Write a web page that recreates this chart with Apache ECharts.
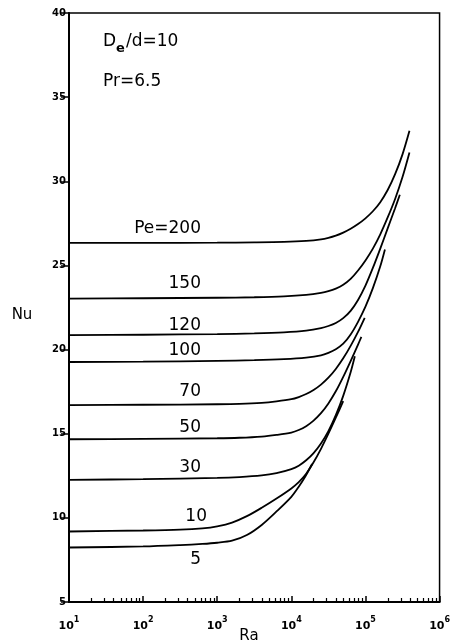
<!DOCTYPE html>
<html>
<head>
<meta charset="utf-8">
<script src="https://cdn.jsdelivr.net/npm/echarts@6/dist/echarts.min.js"></script>
<style>
  html, body { margin: 0; background: #fff; }
  #chart { width: 453px; height: 641px; }
</style>
</head>
<body>
<div id="chart"></div>
<script>
// Nu vs Ra for several Pe values ([Ra, Nu])
const pe200 = [[10,26.34],[100,26.34],[1000,26.35],[3162,26.37],[7943,26.4],[15850,26.46],[25120,26.55],[31620,26.64],[39810,26.77],[50120,26.95],[63100,27.18],[79430,27.46],[100000,27.8],[125900,28.22],[158500,28.76],[199500,29.48],[251200,30.42],[316200,31.6],[392600,33.0]];
const pe150 = [[10,23.03],[100,23.05],[1000,23.08],[3162,23.11],[7943,23.16],[15850,23.25],[25120,23.37],[31620,23.47],[39810,23.62],[50120,23.85],[63100,24.2],[79430,24.7],[100000,25.3],[125900,26.0],[158500,26.85],[199500,27.85],[251200,28.95],[316200,30.25],[392600,31.71]];
const pe120 = [[10,20.86],[100,20.88],[1000,20.92],[3162,20.96],[7943,21.02],[15850,21.12],[25120,21.27],[31620,21.4],[39810,21.58],[50120,21.87],[63100,22.3],[79430,22.95],[100000,23.8],[125900,24.85],[158500,26.0],[199500,27.2],[251200,28.4],[291100,29.2]];
const pe100 = [[10,19.26],[100,19.28],[1000,19.33],[3162,19.37],[7943,19.43],[15850,19.52],[25120,19.65],[31620,19.8],[39810,20.02],[50120,20.35],[63100,20.9],[79430,21.65],[100000,22.55],[125900,23.65],[158500,24.95],[183200,25.95]];
const pe70 = [[10,16.7],[100,16.72],[1000,16.75],[1995,16.77],[3981,16.83],[6310,16.92],[10000,17.05],[12590,17.18],[15850,17.36],[19950,17.6],[25120,17.92],[31620,18.33],[39810,18.85],[50120,19.48],[63100,20.22],[79430,21.05],[97700,21.89]];
const pe50 = [[10,14.67],[100,14.69],[1000,14.73],[1995,14.76],[3981,14.83],[6310,14.93],[10000,15.07],[12590,15.22],[15850,15.45],[19950,15.78],[25120,16.22],[31620,16.8],[39810,17.52],[50120,18.38],[63100,19.32],[79430,20.3],[88100,20.75]];
const pe30 = [[10,12.26],[100,12.3],[1000,12.37],[1995,12.42],[3981,12.52],[6310,12.66],[10000,12.9],[12590,13.1],[15850,13.42],[19950,13.85],[25120,14.42],[31620,15.15],[39810,16.1],[50120,17.25],[63100,18.65],[71900,19.6]];
const pe10 = [[10,9.19],[100,9.25],[316,9.3],[631,9.38],[1000,9.5],[1585,9.72],[2512,10.1],[3981,10.6],[6310,11.15],[10000,11.75],[12590,12.12],[15850,12.62],[19950,13.3],[25120,14.1],[31620,15.0],[39810,15.95],[50120,16.94]];
const pe5 = [[10,8.24],[100,8.3],[316,8.38],[631,8.45],[1000,8.52],[1585,8.64],[2512,8.98],[3981,9.58],[6310,10.38],[10000,11.25],[12590,11.85],[15850,12.55],[19050,13.2]];

const peNames = ["Pe=200", "150", "120", "100", "70", "50", "30", "10", "5"];
const peData = [pe200, pe150, pe120, pe100, pe70, pe50, pe30, pe10, pe5];

// curve label anchors (right edge x, centre y) in pixels
const labelPos = [[201,229],[201,284],[201,326],[201,351],[201,392],[201,428],[201,468],[207,517],[201,560]];

const yTicks = [5, 10, 15, 20, 25, 30, 35, 40];
const decades = [10, 100, 1000, 10000, 100000, 1000000];
const minorTickValues = [];
decades.slice(0, 5).forEach(d => { for (let m = 2; m <= 9; m++) minorTickValues.push(m * d); });

const chart = echarts.init(document.getElementById("chart"), null, { renderer: "canvas" });

const font = "DejaVu Sans";

const series = peData.map((d, i) => ({
  name: peNames[i],
  type: "line",
  data: d,
  xAxisIndex: 0,
  showSymbol: false,
  smooth: 0.3,
  lineStyle: { color: "#000", width: 1.8 },
  silent: true,
  animation: false
}));

const graphics = peNames.map((t, i) => ({
  type: "text",
  x: labelPos[i][0],
  y: labelPos[i][1],
  style: {
    text: t,
    font: "17px " + font,
    fill: "#000",
    align: "right",
    verticalAlign: "middle"
  }
}));

graphics.push(
  {
    type: "text", x: 103, y: 44,
    style: {
      text: "{n|D}{s|e}{n|/d=10}",
      fill: "#000",
      verticalAlign: "middle",
      rich: {
        n: { fontFamily: font, fontSize: 17, lineHeight: 22, verticalAlign: "top" },
        s: { fontFamily: font, fontSize: 13, fontWeight: "bold", lineHeight: 22, verticalAlign: "bottom", padding: [0, 1, 0, 0] }
      }
    }
  },
  {
    type: "text", x: 103, y: 82,
    style: { text: "Pr=6.5", font: "17px " + font, fill: "#000", verticalAlign: "middle" }
  },
  {
    type: "text", x: 22, y: 315,
    style: { text: "Nu", font: "15px " + font, fill: "#000", align: "center", verticalAlign: "middle" }
  },
  {
    type: "text", x: 249, y: 636,
    style: { text: "Ra", font: "15px " + font, fill: "#000", align: "center", verticalAlign: "middle" }
  }
);

chart.setOption({
  animation: false,
  backgroundColor: "#fff",
  grid: {
    left: 69, right: 11, top: 13, bottom: 39,
    show: true, borderColor: "#000", borderWidth: 1.5,
    containLabel: false
  },
  xAxis: [
    {
      type: "log",
      logBase: 10,
      min: 10,
      max: 1000000,
      position: "bottom",
      axisLine: { show: true, lineStyle: { color: "#000", width: 2 } },
      axisTick: { show: true, inside: true, length: 6, lineStyle: { color: "#000", width: 1.5 } },
      splitLine: { show: false },
      axisLabel: {
        margin: 14,
        color: "#000",
        formatter: (v) => "{b|10}{s|" + Math.round(Math.log10(v)) + "}",
        rich: {
          b: { fontFamily: font, fontSize: 11, fontWeight: "bold", lineHeight: 16, verticalAlign: "bottom" },
          s: { fontFamily: font, fontSize: 8, fontWeight: "bold", lineHeight: 16, verticalAlign: "top" }
        }
      }
    },
    {
      type: "log",
      logBase: 10,
      min: 10,
      max: 1000000,
      position: "bottom",
      axisLine: { show: false },
      axisLabel: { show: false },
      splitLine: { show: false },
      axisTick: {
        show: true, inside: true, length: 4,
        customValues: minorTickValues,
        lineStyle: { color: "#000", width: 1.2 }
      }
    }
  ],
  yAxis: {
    type: "value",
    min: 5,
    max: 40,
    interval: 5,
    axisLine: { show: true, lineStyle: { color: "#000", width: 2 } },
    axisTick: { show: true, inside: false, length: 8, lineStyle: { color: "#000", width: 1.5 } },
    splitLine: { show: false },
    axisLabel: {
      customValues: yTicks,
      margin: 3,
      color: "#000",
      fontFamily: font,
      fontSize: 10,
      fontWeight: "bold"
    }
  },
  graphic: graphics,
  series
});
</script>
</body>
</html>
